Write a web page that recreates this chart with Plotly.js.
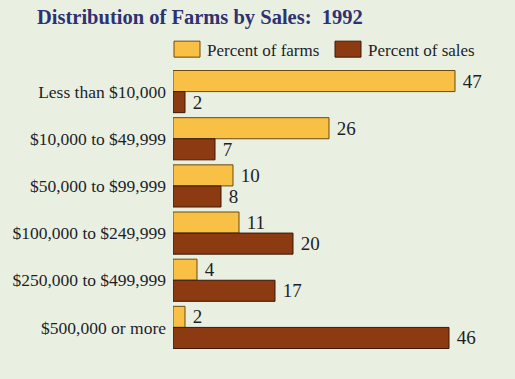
<!DOCTYPE html>
<html>
<head>
<meta charset="utf-8">
<script src="https://cdn.plot.ly/plotly-3.0.1.min.js"></script>
<style>html,body{margin:0;padding:0;background:#e9f0e1;}</style>
</head>
<body>
<div id="chart" style="width:515px;height:379px;"></div>
<script>
const categories = ["Less than $10,000", "$10,000 to $49,999", "$50,000 to $99,999", "$100,000 to $249,999", "$250,000 to $499,999", "$500,000 or more"];
const percentFarms = [47, 26, 10, 11, 4, 2];
const percentSales = [2, 7, 8, 20, 17, 46];
const seriesNames = ["Percent of farms", "Percent of sales"];

const serif = "Liberation Serif, Times New Roman, serif";
const traces = [
  {type:'bar', orientation:'h', name:seriesNames[0], y:categories, x:percentFarms,
   marker:{color:'#f8c044', line:{color:'#6b4a10', width:1}},
   texttemplate:'\u00a0%{x}', textposition:'outside', cliponaxis:false,
   textfont:{family:serif, size:19, color:'#1e1e2a'}, hoverinfo:'skip'},
  {type:'bar', orientation:'h', name:seriesNames[1], y:categories, x:percentSales,
   marker:{color:'#8b3a12', line:{color:'#3a1a08', width:1}},
   texttemplate:'\u00a0%{x}', textposition:'outside', cliponaxis:false,
   textfont:{family:serif, size:19, color:'#1e1e2a'}, hoverinfo:'skip'}
];
const layout = {
  width:515, height:379,
  margin:{l:173, r:42, t:68, b:28, autoexpand:false},
  paper_bgcolor:'#e9f0e1', plot_bgcolor:'rgba(0,0,0,0)',
  barmode:'group', bargap:0.106, bargroupgap:0,
  title:{text:'<b>Distribution of Farms by Sales:  1992</b>', x:37/515, xanchor:'left', y:1-17/379, yanchor:'middle',
         font:{family:serif, size:20.5, color:'#2f3170'}},
  showlegend:true,
  legend:{orientation:'h', x:-0.02, xanchor:'left', y:1.065, yanchor:'middle', bgcolor:'rgba(0,0,0,0)',
          font:{family:serif, size:17, color:'#1e1e2a'}, traceorder:'normal', entrywidth:116},
  xaxis:{range:[0,50], showgrid:false, zeroline:false, showticklabels:false, showline:false, ticks:'', automargin:false},
  yaxis:{autorange:'reversed', showgrid:false, zeroline:false, showline:false, ticks:'', ticklabelstandoff:6, automargin:false,
         tickfont:{family:serif, size:17.5, color:'#1e1e2a'}},
  font:{family:serif}
};
Plotly.newPlot('chart', traces, layout, {displayModeBar:false, staticPlot:true}).then(function(gd){
  // enlarge legend swatches to match the reference's wider boxes
  gd.querySelectorAll('.legendpoints path').forEach(function(p){
    p.setAttribute('d', 'M-13,-8H13V8H-13Z');
  });
});
</script>
</body>
</html>
